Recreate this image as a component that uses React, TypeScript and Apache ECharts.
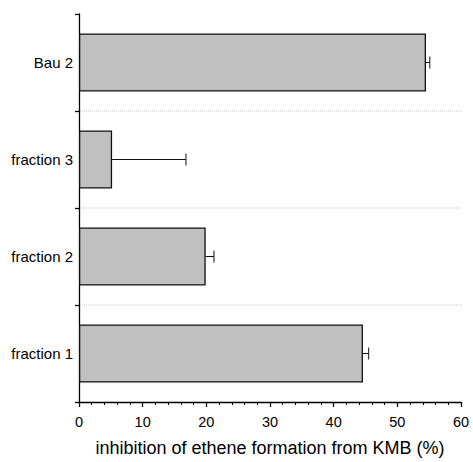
import React, { useEffect, useRef } from "react";
import * as echarts from "echarts";

const categories = ["fraction 1", "fraction 2", "fraction 3", "Bau 2"];
const values = [44.6, 19.9, 5.2, 54.5];
const errors = [0.9, 1.3, 11.6, 0.6];
const xTicks = [0, 10, 20, 30, 40, 50, 60];

export default function App() {
  const ref = useRef<HTMLDivElement>(null);
  useEffect(() => {
    const chart = echarts.init(ref.current!, null, { renderer: "svg" });
    const font = "'Liberation Sans', Arial, sans-serif";
    chart.setOption({
      animation: false,
      grid: { left: 79, right: 12, top: 14, bottom: 53 },
      xAxis: {
        type: "value",
        min: xTicks[0],
        max: xTicks[xTicks.length - 1],
        interval: 10,
        name: "inhibition of ethene formation from KMB (%)",
        nameLocation: "middle",
        nameGap: 37,
        nameTextStyle: { fontFamily: font, fontSize: 18, color: "#000" },
        axisLine: { show: true, lineStyle: { color: "#000", width: 1.3 } },
        axisTick: { show: true, length: 5, lineStyle: { color: "#000", width: 1.3 } },
        minorTick: { show: true, splitNumber: 5, length: 3, lineStyle: { color: "#000", width: 1 } },
        splitLine: { show: false },
        axisLabel: { fontFamily: font, fontSize: 14.5, color: "#000", margin: 12 },
      },
      yAxis: {
        type: "category",
        data: categories,
        axisLine: { show: true, lineStyle: { color: "#000", width: 1.3 } },
        axisTick: { show: true, length: 4, lineStyle: { color: "#000", width: 1.3 } },
        axisLabel: { fontFamily: font, fontSize: 15, color: "#000", margin: 6 },
        splitLine: { show: false },
      },
      series: [
        {
          type: "bar",
          data: values,
          barCategoryGap: "40%",
          itemStyle: { color: "#c0c0c0", borderColor: "#111", borderWidth: 1.3 },
          z: 2,
        },
        {
          type: "custom",
          data: values.map((v, i) => [v, i, v + errors[i]]),
          z: 3,
          renderItem: (params: any, api: any) => {
            const i = api.value(1);
            const start = api.coord([api.value(0), i]);
            const end = api.coord([api.value(2), i]);
            const band = api.size([0, 1])[1];
            const children: any[] = [
              { type: "line", shape: { x1: start[0], y1: start[1], x2: end[0], y2: end[1] }, style: { stroke: "#111", lineWidth: 1 } },
              { type: "line", shape: { x1: end[0], y1: end[1] - 6, x2: end[0], y2: end[1] + 6 }, style: { stroke: "#111", lineWidth: 1 } },
            ];
            if (i > 0) {
              const y = start[1] + band / 2;
              const x0 = api.coord([xTicks[0], i])[0];
              const x1 = api.coord([xTicks[xTicks.length - 1], i])[0];
              children.push({
                type: "line",
                shape: { x1: x0 + 1, y1: y, x2: x1, y2: y },
                style: { stroke: "#c8c8c8", lineWidth: 1, lineDash: [1, 1] },
              });
            }
            return { type: "group", children };
          },
        },
      ],
    });
    return () => chart.dispose();
  }, []);
  return <div ref={ref} style={{ width: 473, height: 462, position: "absolute", left: 0, top: 0 }} />;
}
